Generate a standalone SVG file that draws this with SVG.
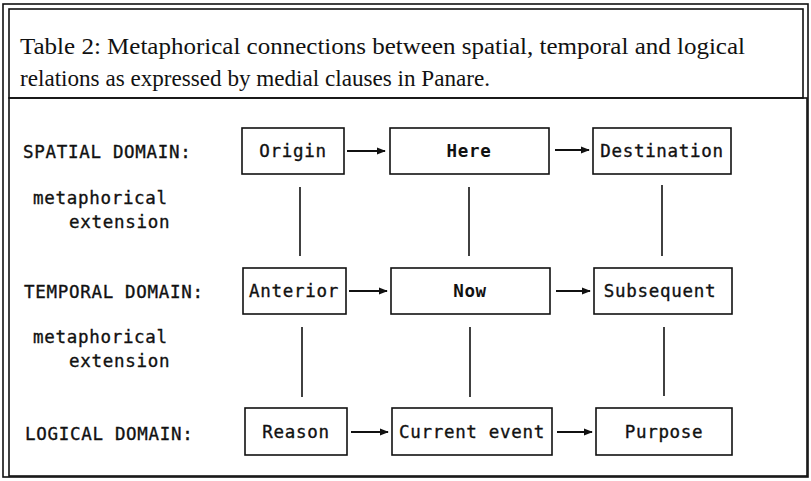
<svg xmlns="http://www.w3.org/2000/svg" width="811" height="481" viewBox="0 0 811 481">
<defs>
<style>
.frame{fill:none;stroke:#111;stroke-width:1.6}
.box{fill:#fff;stroke:#111;stroke-width:1.6}
.title{font-family:"Liberation Serif","Times New Roman",serif;font-size:24px;fill:#111}
.lbl{font-family:"DejaVu Sans Mono","Liberation Mono",monospace;font-size:17.5px;letter-spacing:0.7px;fill:#111;stroke:#111;stroke-width:0.35}
.txt{font-family:"DejaVu Sans Mono","Liberation Mono",monospace;font-size:17.5px;letter-spacing:0.7px;fill:#111;stroke:#111;stroke-width:0.35;text-anchor:middle}
.b{font-weight:bold;stroke-width:0}
.con{stroke:#111;stroke-width:1.6;fill:none}
.arr{stroke:#111;stroke-width:2;fill:none;marker-end:url(#ah)}
</style>
<marker id="ah" viewBox="0 0 10 10" refX="9" refY="5" markerWidth="4.5" markerHeight="4.5" markerUnits="strokeWidth" orient="auto">
<path d="M0,1 L10,5 L0,9 Z" fill="#111"/>
</marker>
</defs>
<rect width="811" height="481" fill="#fff"/>
<g id="frame">
<rect class="frame" x="3" y="4" width="805" height="473"/>
<rect class="frame" x="9" y="9" width="794" height="89"/>
<rect class="frame" x="9" y="98" width="798" height="378"/>
</g>
<g id="title">
<text class="title" x="20" y="54" textLength="725" lengthAdjust="spacingAndGlyphs">Table 2: Metaphorical connections between spatial, temporal and logical</text>
<text class="title" x="20" y="86" textLength="470" lengthAdjust="spacingAndGlyphs">relations as expressed by medial clauses in Panare.</text>
</g>
<g id="labels">
<text class="lbl" x="23" y="158">SPATIAL DOMAIN:</text>
<text class="lbl" x="33" y="204">metaphorical</text>
<text class="lbl" x="69" y="228">extension</text>
<text class="lbl" x="24" y="298">TEMPORAL DOMAIN:</text>
<text class="lbl" x="33" y="343">metaphorical</text>
<text class="lbl" x="69" y="367">extension</text>
<text class="lbl" x="25" y="440">LOGICAL DOMAIN:</text>
</g>
<g id="connectors">
<line class="arr" x1="347" y1="151" x2="385" y2="151"/>
<line class="arr" x1="555" y1="150" x2="589" y2="150"/>
<line class="arr" x1="349" y1="291" x2="387" y2="291"/>
<line class="arr" x1="556" y1="291" x2="590" y2="291"/>
<line class="arr" x1="351" y1="432" x2="388" y2="432"/>
<line class="arr" x1="557" y1="432" x2="592" y2="432"/>
<line class="con" x1="300" y1="187" x2="300" y2="256"/>
<line class="con" x1="469" y1="187" x2="469" y2="256"/>
<line class="con" x1="662" y1="185" x2="662" y2="256"/>
<line class="con" x1="302" y1="327" x2="302" y2="397"/>
<line class="con" x1="470" y1="327" x2="470" y2="397"/>
<line class="con" x1="664" y1="327" x2="664" y2="396"/>
</g>
<g id="origin"><rect class="box" x="242" y="128" width="102" height="46"/><text class="txt" x="293" y="157">Origin</text></g>
<g id="here"><rect class="box" x="390" y="128" width="159" height="46"/><text class="txt b" x="469" y="157">Here</text></g>
<g id="destination"><rect class="box" x="593" y="128" width="138" height="46"/><text class="txt" x="662" y="157">Destination</text></g>
<g id="anterior"><rect class="box" x="243" y="268" width="103" height="46"/><text class="txt" x="294" y="297">Anterior</text></g>
<g id="now"><rect class="box" x="391" y="268" width="159" height="46"/><text class="txt b" x="470" y="297">Now</text></g>
<g id="subsequent"><rect class="box" x="594" y="268" width="138" height="46"/><text class="txt" x="660" y="297">Subsequent</text></g>
<g id="reason"><rect class="box" x="245" y="408" width="102" height="47"/><text class="txt" x="296" y="438">Reason</text></g>
<g id="current-event"><rect class="box" x="392" y="408" width="160" height="47"/><text class="txt" x="472" y="438">Current event</text></g>
<g id="purpose"><rect class="box" x="596" y="408" width="136" height="47"/><text class="txt" x="664" y="438">Purpose</text></g>
</svg>
